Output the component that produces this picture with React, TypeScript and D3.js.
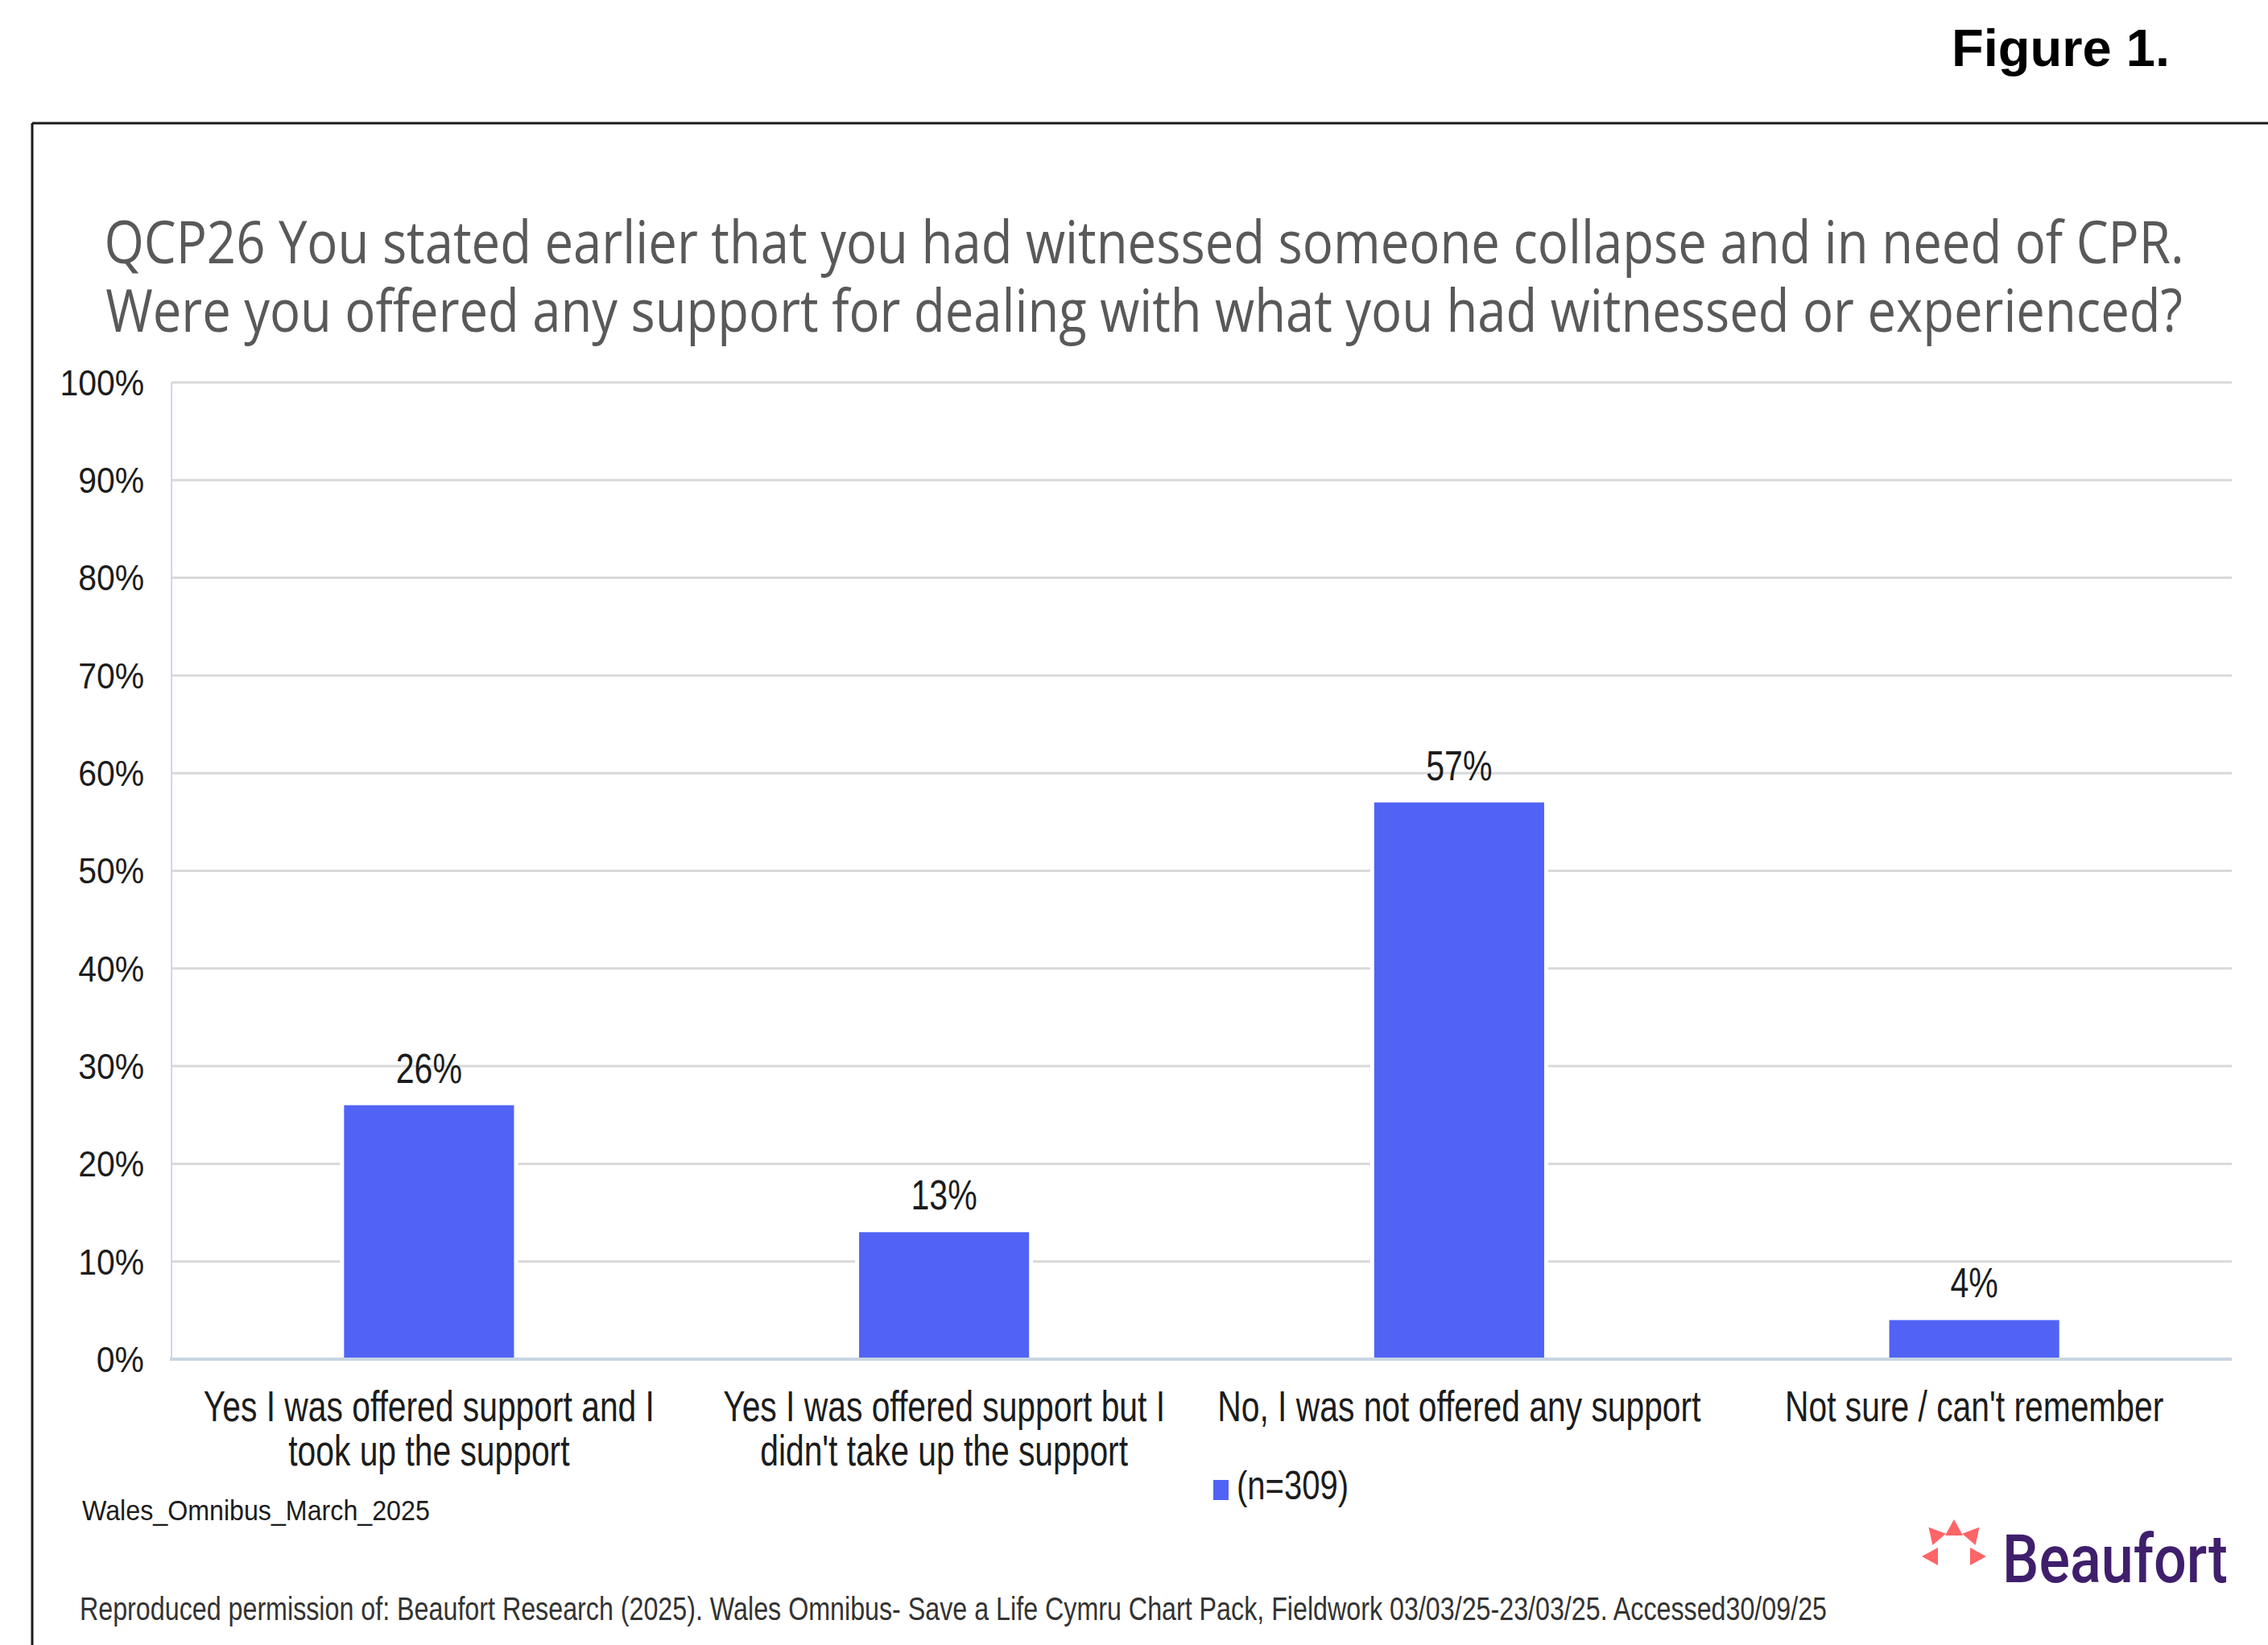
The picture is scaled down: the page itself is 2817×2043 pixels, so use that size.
import React, { useEffect, useRef } from 'react';
import * as d3 from 'd3';

const figureLabel = 'Figure 1.';
const titleLines = [
  'QCP26 You stated earlier that you had witnessed someone collapse and in need of CPR.',
  'Were you offered any support for dealing with what you had witnessed or experienced?',
];
const categories = [
  'Yes I was offered support and I took up the support',
  "Yes I was offered support but I didn't take up the support",
  'No, I was not offered any support',
  "Not sure / can't remember",
];
const categoryLines = [
  ['Yes I was offered support and I', 'took up the support'],
  ['Yes I was offered support but I', "didn't take up the support"],
  ['No, I was not offered any support'],
  ["Not sure / can't remember"],
];
const values = [26, 13, 57, 4];
const yTicks = [0, 10, 20, 30, 40, 50, 60, 70, 80, 90, 100];
const seriesName = '(n=309)';
const sourceNote = 'Wales_Omnibus_March_2025';
const footnote =
  'Reproduced permission of: Beaufort Research (2025). Wales Omnibus- Save a Life Cymru Chart Pack, Fieldwork 03/03/25-23/03/25. Accessed30/09/25';
const brand = 'Beaufort';

const W = 2817;
const H = 2043;
const BAR = '#5063F5';
const TXT = '#1c1c1c';
const SANS = '"Liberation Sans", Arial, sans-serif';

type TOpts = {
  size: number;
  family?: string;
  weight?: string | number;
  fill?: string;
  anchor?: string;
  dy?: string;
  sx?: number; // horizontal squeeze factor
  width?: number; // or target width
};

function addText(parent: any, str: string, x: number, y: number, o: TOpts) {
  const t = parent
    .append('text')
    .text(str)
    .attr('x', 0)
    .attr('y', 0)
    .attr('font-family', o.family ?? SANS)
    .attr('font-size', o.size)
    .attr('font-weight', o.weight ?? 'normal')
    .attr('fill', o.fill ?? TXT)
    .attr('text-anchor', o.anchor ?? 'start');
  if (o.dy) t.attr('dy', o.dy);
  const node = t.node() as SVGTextElement;
  const nat = node.getComputedTextLength();
  let s = o.sx ?? 1;
  if (o.width && nat > 0) s = o.width / nat;
  t.attr('transform', `translate(${x},${y}) scale(${s},1)`);
  return t;
}

export default function App() {
  const ref = useRef<SVGSVGElement>(null);

  useEffect(() => {
    const svg = d3.select(ref.current);
    svg.selectAll('*').remove();

    // frame
    svg.append('line').attr('x1', 40).attr('x2', W).attr('y1', 153).attr('y2', 153)
      .attr('stroke', '#1a1a1a').attr('stroke-width', 3);
    svg.append('line').attr('x1', 40).attr('x2', 40).attr('y1', 153).attr('y2', H)
      .attr('stroke', '#1a1a1a').attr('stroke-width', 3);

    // figure label
    addText(svg, figureLabel, 2695, 82, { size: 65, weight: 'bold', fill: '#000', anchor: 'end' });

    // title
    const titleW = [2584, 2580];
    titleLines.forEach((t, i) => {
      addText(svg, t, 1421, 327 + i * 85, {
        size: 74, family: '"Open Sans", sans-serif', fill: '#595959', anchor: 'middle', width: titleW[i],
      });
    });

    const x = d3.scaleBand<string>().domain(categories).range([213, 2772])
      .paddingInner(0.67).paddingOuter(0.335);
    const y = d3.scaleLinear().domain([0, 100]).range([1688, 475]);

    // gridlines
    svg.append('g').selectAll('line').data(yTicks.filter((d) => d > 0)).join('line')
      .attr('x1', 213).attr('x2', 2772)
      .attr('y1', (d) => y(d)).attr('y2', (d) => y(d))
      .attr('stroke', '#d9d9d9').attr('stroke-width', 3);

    // y tick labels
    const gy = svg.append('g');
    yTicks.forEach((d) => {
      addText(gy, `${d}%`, 179, y(d), { size: 44, anchor: 'end', dy: '0.36em', sx: 0.93 });
    });

    // left axis
    svg.append('line').attr('x1', 213).attr('x2', 213).attr('y1', y(100)).attr('y2', y(0))
      .attr('stroke', '#cbd9e8').attr('stroke-width', 2);

    // bars with white halo
    const bars = svg.append('g');
    bars.selectAll('rect.halo').data(values).join('rect').attr('class', 'halo')
      .attr('x', (_, i) => (x(categories[i]) as number) - 5)
      .attr('width', x.bandwidth() + 10)
      .attr('y', (d) => y(d) - 5)
      .attr('height', (d) => y(0) - y(d) + 5)
      .attr('fill', '#fff');
    bars.selectAll('rect.bar').data(values).join('rect').attr('class', 'bar')
      .attr('x', (_, i) => x(categories[i]) as number)
      .attr('width', x.bandwidth())
      .attr('y', (d) => y(d))
      .attr('height', (d) => y(0) - y(d))
      .attr('fill', BAR);

    // bottom axis
    svg.append('line').attr('x1', 211).attr('x2', 2772).attr('y1', y(0)).attr('y2', y(0))
      .attr('stroke', '#c8d5e3').attr('stroke-width', 4);

    // data labels
    const gd = svg.append('g');
    values.forEach((v, i) => {
      const cx = (x(categories[i]) as number) + x.bandwidth() / 2;
      addText(gd, `${v}%`, cx, y(v) - 28, { size: 52, anchor: 'middle', sx: 0.79 });
    });

    // category labels
    const gc = svg.append('g');
    categoryLines.forEach((lines, i) => {
      const cx = (x(categories[i]) as number) + x.bandwidth() / 2;
      lines.forEach((ln, j) => {
        addText(gc, ln, cx, 1765 + j * 55, { size: 53, anchor: 'middle', sx: 0.77 });
      });
    });

    // source note
    addText(svg, sourceNote, 102, 1888, { size: 36, width: 432 });

    // legend
    svg.append('rect').attr('x', 1507).attr('y', 1838).attr('width', 19).attr('height', 25).attr('fill', BAR);
    addText(svg, seriesName, 1536, 1862, { size: 50, sx: 0.8 });

    // logo mark: five inward-pointing triangles
    const logo = svg.append('g').attr('transform', 'translate(2427,1933)');
    const marks = [
      { a: -90, r: 36 },
      { a: -131, r: 38 },
      { a: -49, r: 38 },
      { a: 180, r: 30 },
      { a: 0, r: 30 },
    ];
    marks.forEach(({ a, r }) => {
      const rad = (a * Math.PI) / 180;
      logo.append('path')
        .attr('d', 'M -11 -10 L 11 -10 L 0 10 Z')
        .attr('transform', `translate(${r * Math.cos(rad)},${r * Math.sin(rad)}) rotate(${a - 90})`)
        .attr('fill', '#FF6467');
    });
    addText(svg, brand, 2487, 1965, {
      size: 84, family: 'Roboto, sans-serif', weight: 500, fill: '#3F1F6C', width: 280,
    });

    // footnote
    addText(svg, footnote, 99, 2012, { size: 40, fill: '#333', width: 2171 });
  }, []);

  return (
    <svg
      ref={ref}
      width={W}
      height={H}
      viewBox={`0 0 ${W} ${H}`}
      style={{ position: 'absolute', left: 0, top: 0, background: '#fff' }}
    />
  );
}
